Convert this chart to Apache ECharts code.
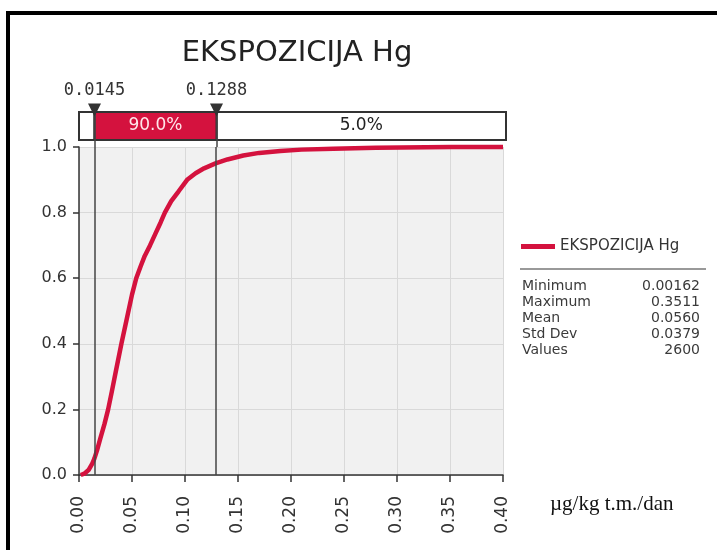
<!DOCTYPE html>
<html>
<head>
<meta charset="utf-8">
<script src="https://cdn.jsdelivr.net/npm/echarts@6/dist/echarts.min.js"></script>
<style>
html,body{margin:0;padding:0;background:#fff;}
#chart{width:717px;height:550px;}
</style>
</head>
<body>
<div id="chart"></div>
<script>
// ---- data ----
var titleText = 'EKSPOZICIJA Hg';
var seriesName = 'EKSPOZICIJA Hg';
var cdfX = [0.00162, 0.005, 0.009, 0.0125, 0.0145, 0.017, 0.020, 0.024, 0.0275, 0.031, 0.035, 0.040, 0.045, 0.050, 0.054, 0.058, 0.062, 0.067, 0.072, 0.077, 0.081, 0.087, 0.094, 0.102, 0.110, 0.118, 0.1288, 0.140, 0.155, 0.170, 0.190, 0.210, 0.240, 0.280, 0.3511, 0.400];
var cdfY = [0.000, 0.004, 0.015, 0.035, 0.050, 0.075, 0.110, 0.155, 0.200, 0.255, 0.320, 0.400, 0.475, 0.550, 0.600, 0.635, 0.668, 0.700, 0.735, 0.770, 0.800, 0.835, 0.865, 0.900, 0.920, 0.935, 0.950, 0.962, 0.974, 0.982, 0.988, 0.992, 0.995, 0.998, 1.000, 1.000];
var pctX = [0.0145, 0.1288];
var pctLabels = ['0.0145', '0.1288'];
var bandLabels = ['5.0%', '90.0%', '5.0%'];
var xTickLabels = ['0.00', '0.05', '0.10', '0.15', '0.20', '0.25', '0.30', '0.35', '0.40'];
var yTickLabels = ['0.0', '0.2', '0.4', '0.6', '0.8', '1.0'];
var statNames = ['Minimum', 'Maximum', 'Mean', 'Std Dev', 'Values'];
var statValues = ['0.00162', '0.3511', '0.0560', '0.0379', '2600'];
var unitText = 'µg/kg t.m./dan';

// ---- chart ----
var FONT = 'DejaVu Sans';
var RED = '#d4123e';
var chart = echarts.init(document.getElementById('chart'));

var curve = cdfX.map(function (x, i) { return [x, cdfY[i]]; });

var statGraphics = [];
statNames.forEach(function (n, i) {
  statGraphics.push({
    type: 'text', left: 522, top: 279 + i * 16,
    style: { text: n, font: '14px "' + FONT + '"', fill: '#3a3a3a' }
  });
  statGraphics.push({
    type: 'text', right: 17, top: 279 + i * 16,
    style: { text: statValues[i], font: '14px "' + FONT + '"', fill: '#3a3a3a', textAlign: 'right' }
  });
});

var vLineMark = {
  silent: true, precision: 6, symbol: ['none', 'none'], label: { show: false },
  lineStyle: { color: '#444', width: 1.5, type: 'solid' },
  data: pctX.map(function (x) { return { xAxis: x }; })
};

var option = {
  animation: false,
  backgroundColor: '#ffffff',
  title: {
    text: titleText, left: 292, top: 34, textAlign: 'center',
    textStyle: { fontFamily: FONT, fontSize: 29, fontWeight: 'normal', color: '#222' }
  },
  legend: {
    data: [seriesName], left: 516, top: 234, icon: 'rect',
    itemWidth: 34, itemHeight: 5, itemGap: 6,
    textStyle: { fontFamily: FONT, fontSize: 15, color: '#333' }
  },
  grid: [
    { left: 79, right: 214, top: 147, bottom: 75, show: true, backgroundColor: '#f1f1f1', borderWidth: 0 },
    { left: 79, right: 211, top: 112, height: 35, show: false }
  ],
  xAxis: [
    {
      type: 'value', gridIndex: 0, min: 0, max: 0.4, interval: 0.05,
      axisLine: { show: true, onZero: false, lineStyle: { color: '#333', width: 1.5 } },
      axisTick: { show: true, length: 7, lineStyle: { color: '#333', width: 1.5 } },
      axisLabel: {
        rotate: 90, margin: 21, fontFamily: FONT, fontSize: 17, color: '#333',
        formatter: function (v) { return xTickLabels[Math.round(v / 0.05)]; }
      },
      splitLine: { show: true, lineStyle: { color: '#d9d9d9', width: 1 } }
    },
    { type: 'value', gridIndex: 1, min: 0, max: 0.4, show: false }
  ],
  yAxis: [
    {
      type: 'value', gridIndex: 0, min: 0, max: 1, interval: 0.2,
      axisLine: { show: true, lineStyle: { color: '#333', width: 1.5 } },
      axisTick: { show: true, length: 6, lineStyle: { color: '#333', width: 1.5 } },
      axisLabel: {
        margin: 12, fontFamily: FONT, fontSize: 16, color: '#333',
        formatter: function (v) { return yTickLabels[Math.round(v / 0.2)]; }
      },
      splitLine: { show: true, lineStyle: { color: '#d9d9d9', width: 1 } }
    },
    { type: 'value', gridIndex: 1, min: 0, max: 1, show: false }
  ],
  series: [
    {
      name: 'markers', type: 'line', xAxisIndex: 0, yAxisIndex: 0, data: [],
      markLine: vLineMark, z: 2
    },
    {
      name: seriesName, type: 'line', xAxisIndex: 0, yAxisIndex: 0,
      data: curve, showSymbol: false, symbol: 'none', clip: false, z: 3,
      itemStyle: { color: RED },
      lineStyle: { color: RED, width: 4.5 }
    },
    {
      name: 'band', type: 'line', xAxisIndex: 1, yAxisIndex: 1, data: [],
      markArea: {
        silent: true,
        data: [
          [{ xAxis: 0, yAxis: 0.2, itemStyle: { color: '#ffffff', borderColor: '#333', borderWidth: 2 }, label: { show: false } },
           { xAxis: pctX[0], yAxis: 1 }],
          [{ xAxis: pctX[1], yAxis: 0.2, itemStyle: { color: '#ffffff', borderColor: '#333', borderWidth: 2 },
             label: { show: true, position: 'inside', formatter: bandLabels[2], color: '#222', fontFamily: FONT, fontSize: 17 } },
           { xAxis: 0.4, yAxis: 1 }],
          [{ xAxis: pctX[0], yAxis: 0.2, itemStyle: { color: RED, borderColor: '#333', borderWidth: 2 },
             label: { show: true, position: 'inside', formatter: bandLabels[1], color: '#ffe6ea', fontFamily: FONT, fontSize: 17 } },
           { xAxis: pctX[1], yAxis: 1 }]
        ]
      },
      markLine: vLineMark,
      markPoint: {
        silent: true, symbol: 'triangle', symbolRotate: 180, symbolSize: [13, 13], symbolOffset: [0, -2],
        itemStyle: { color: '#333' },
        label: { show: true, position: 'top', distance: 4, fontFamily: 'DejaVu Sans Mono', fontSize: 17, color: '#333' },
        data: pctX.map(function (x, i) {
          return { coord: [x, 1], label: { formatter: pctLabels[i] } };
        })
      }
    }
  ],
  graphic: [
    { type: 'rect', shape: { x: 8, y: 13, width: 900, height: 700 }, style: { fill: 'none', stroke: '#000', lineWidth: 4 }, silent: true },
    { type: 'line', shape: { x1: 520, y1: 269, x2: 706, y2: 269 }, style: { stroke: '#999', lineWidth: 2 }, silent: true },
    { type: 'text', left: 550, top: 494, style: { text: unitText, font: '21px "Liberation Serif"', fill: '#111' } }
  ].concat(statGraphics)
};
chart.setOption(option);
</script>
</body>
</html>
